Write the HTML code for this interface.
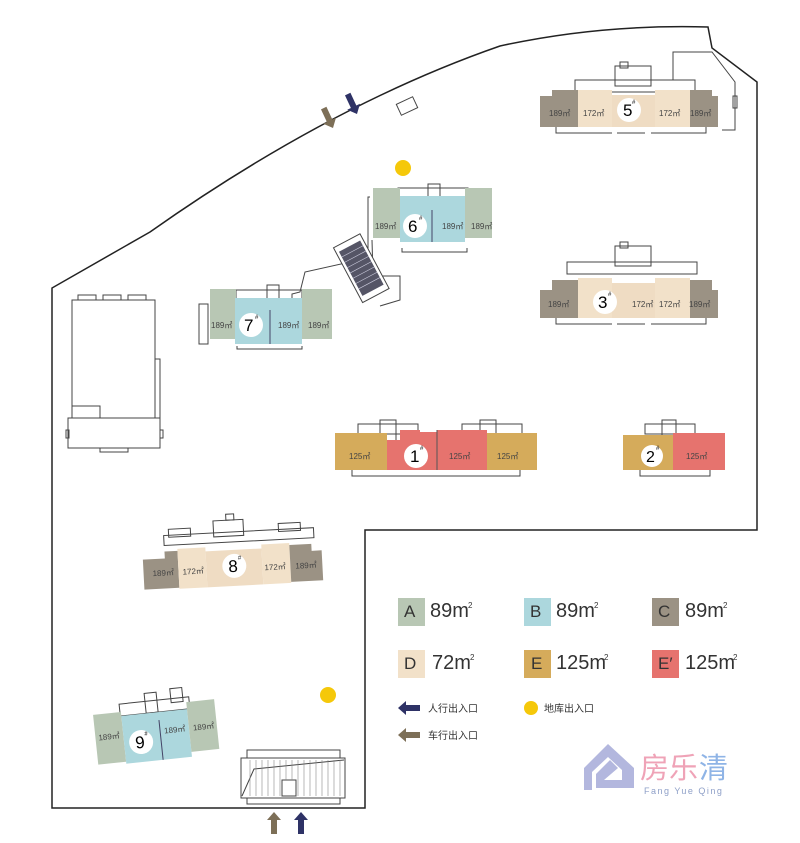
<!DOCTYPE html>
<html><head><meta charset="utf-8"><style>
body{margin:0;background:#fff}
svg{display:block}
text{font-family:"Liberation Sans","Noto Sans CJK SC",sans-serif}
.u{font-size:8px;fill:#444}
</style></head><body>
<svg width="800" height="843" viewBox="0 0 800 843" xmlns="http://www.w3.org/2000/svg">
<!-- boundary -->
<path d="M52,808 L52,288 L150,232 Q330,105 500,46 Q600,24 708,27 L712,48 L757,82 L757,530 L365,530 L365,808 Z" fill="none" stroke="#222" stroke-width="1.5"/>

<!-- left building -->
<g fill="none" stroke="#444" stroke-width="1">
<rect x="72" y="300" width="83" height="118"/>
<rect x="68" y="418" width="92" height="30"/>
<rect x="72" y="406" width="28" height="12"/>
<rect x="155" y="359" width="5" height="59"/>
<rect x="78" y="295" width="18" height="5"/><rect x="103" y="295" width="18" height="5"/><rect x="128" y="295" width="18" height="5"/>
<rect x="100" y="448" width="28" height="4"/>
<rect x="66" y="430" width="3" height="8"/><rect x="160" y="430" width="3" height="8"/>
<rect x="398" y="100" width="18" height="12" transform="rotate(-25 407 106)"/>
</g>

<!-- Building 5 -->
<g>
<g fill="none" stroke="#444" stroke-width="1">
<rect x="575" y="80" width="120" height="12"/><rect x="615" y="66" width="36" height="20"/><rect x="620" y="62" width="8" height="6"/>
<path d="M690,80 L673,80 L673,52 L712,52 L735,82 L735,130 L722,130"/>
<rect x="733" y="96" width="4" height="12"/>
<path d="M556,127 L556,133 L612,133 M617,133 L645,133 M651,133 L706,133 L706,127"/>
</g>
<polygon points="540,96 552,96 552,90 578,90 578,127 540,127" fill="#9b9284"/>
<rect x="578" y="90" width="34" height="37" fill="#f2e1c9"/>
<rect x="612" y="95" width="43" height="32" fill="#efdcc3"/>
<rect x="655" y="90" width="35" height="37" fill="#f2e1c9"/>
<polygon points="690,90 712,90 712,96 718,96 718,127 690,127" fill="#9b9284"/>
<circle cx="629" cy="110" r="12" fill="#fff"/><text x="623" y="116" font-size="17">5</text><text x="632" y="104" font-size="6">#</text>
<text class="u" x="549" y="116">189㎡</text><text class="u" x="583" y="116">172㎡</text><text class="u" x="659" y="116">172㎡</text><text class="u" x="690" y="116">189㎡</text>
</g>

<!-- Building 3 -->
<g>
<g fill="none" stroke="#444" stroke-width="1">
<rect x="567" y="262" width="130" height="12"/><rect x="615" y="246" width="36" height="20"/><rect x="620" y="242" width="8" height="6"/>
<path d="M556,318 L556,324 L612,324 M617,324 L645,324 M651,324 L706,324 L706,318"/>
</g>
<polygon points="540,290 552,290 552,280 578,280 578,318 540,318" fill="#9b9284"/>
<rect x="578" y="278" width="34" height="40" fill="#f2e1c9"/>
<rect x="612" y="283" width="43" height="35" fill="#efdcc3"/>
<rect x="655" y="278" width="35" height="40" fill="#f2e1c9"/>
<polygon points="690,280 712,280 712,290 718,290 718,318 690,318" fill="#9b9284"/>
<circle cx="605" cy="302" r="12" fill="#fff"/><text x="598" y="308" font-size="17">3</text><text x="608" y="296" font-size="6">#</text>
<text class="u" x="548" y="307">189㎡</text><text class="u" x="632" y="307">172㎡</text><text class="u" x="659" y="307">172㎡</text><text class="u" x="689" y="307">189㎡</text>
</g>

<!-- Building 6 -->
<g>
<g fill="none" stroke="#444" stroke-width="1">
<rect x="398" y="188" width="70" height="10"/><rect x="428" y="184" width="12" height="16"/>
<path d="M402,248 L402,252 L467,252 L467,248"/>
<path d="M370,197 L368,197 L368,258 L305,272 L300,292 L292,294 L292,335"/>
<path d="M372,240 L373,276 L400,276 L400,300 L380,306"/>
</g>
<rect x="373" y="188" width="27" height="50" fill="#b8c7b4"/>
<rect x="400" y="196" width="65" height="46" fill="#acd7dd"/>
<line x1="432" y1="210" x2="432" y2="242" stroke="#446" stroke-width="1"/>
<rect x="465" y="188" width="27" height="50" fill="#b8c7b4"/>
<circle cx="415" cy="226" r="12" fill="#fff"/><text x="408" y="232" font-size="17">6</text><text x="419" y="220" font-size="6">#</text>
<text class="u" x="375" y="229">189㎡</text><text class="u" x="442" y="229">189㎡</text><text class="u" x="471" y="229">189㎡</text>
<g transform="rotate(-28 360 270)">
<rect x="347" y="238" width="30" height="62" fill="#fff" stroke="#444"/>
<rect x="350" y="244" width="24" height="50" fill="#556" />
<g stroke="#ccd" stroke-width="0.6"><line x1="350" y1="250" x2="374" y2="250"/><line x1="350" y1="256" x2="374" y2="256"/><line x1="350" y1="262" x2="374" y2="262"/><line x1="350" y1="268" x2="374" y2="268"/><line x1="350" y1="274" x2="374" y2="274"/><line x1="350" y1="280" x2="374" y2="280"/><line x1="350" y1="286" x2="374" y2="286"/></g>
</g>
</g>

<!-- Building 7 -->
<g>
<g fill="none" stroke="#444" stroke-width="1">
<rect x="236" y="290" width="66" height="10"/><rect x="267" y="285" width="12" height="16"/>
<path d="M237,346 L237,349 L302,349 L302,346"/>
<rect x="199" y="304" width="9" height="40"/>
</g>
<rect x="210" y="289" width="26" height="50" fill="#b8c7b4"/>
<rect x="235" y="298" width="67" height="46" fill="#acd7dd"/>
<line x1="270" y1="310" x2="270" y2="344" stroke="#446"/>
<rect x="302" y="289" width="30" height="50" fill="#b8c7b4"/>
<circle cx="251" cy="325" r="12" fill="#fff"/><text x="244" y="331" font-size="17">7</text><text x="255" y="319" font-size="6">#</text>
<text class="u" x="211" y="328">189㎡</text><text class="u" x="278" y="328">189㎡</text><text class="u" x="308" y="328">189㎡</text>
</g>

<!-- Building 1 -->
<g>
<g fill="none" stroke="#444" stroke-width="1">
<rect x="358" y="424" width="60" height="10"/><rect x="380" y="420" width="16" height="22"/>
<rect x="462" y="424" width="60" height="10"/><rect x="480" y="420" width="16" height="22"/>
<path d="M352,470 L352,476 L520,476 L520,470"/>
</g>
<rect x="335" y="433" width="52" height="37" fill="#d5ab5b"/>
<polygon points="387,440 400,440 400,430 420,430 420,470 387,470" fill="#e6736e"/>
<rect x="420" y="432" width="17" height="38" fill="#e6736e"/>
<rect x="437" y="430" width="50" height="40" fill="#e6736e"/>
<rect x="487" y="433" width="50" height="37" fill="#d5ab5b"/>
<line x1="437" y1="430" x2="437" y2="470" stroke="#555"/>
<circle cx="416" cy="456" r="12" fill="#fff"/><text x="410" y="462" font-size="17">1</text><text x="420" y="450" font-size="6">#</text>
<text class="u" x="349" y="459">125㎡</text><text class="u" x="449" y="459">125㎡</text><text class="u" x="497" y="459">125㎡</text>
</g>

<!-- Building 2 -->
<g>
<g fill="none" stroke="#444" stroke-width="1">
<rect x="645" y="424" width="50" height="10"/><rect x="662" y="420" width="14" height="22"/>
<path d="M640,470 L640,476 L710,476 L710,470"/>
</g>
<rect x="623" y="435" width="50" height="35" fill="#d5ab5b"/>
<rect x="673" y="433" width="52" height="37" fill="#e6736e"/>
<circle cx="652" cy="456" r="11" fill="#fff"/><text x="646" y="462" font-size="16">2</text><text x="656" y="450" font-size="6">#</text>
<text class="u" x="686" y="459">125㎡</text>
</g>

<!-- Building 8 -->
<g transform="rotate(-3 232 560)">
<g fill="none" stroke="#444" stroke-width="1">
<rect x="165" y="532" width="150" height="10"/><rect x="215" y="520" width="30" height="16"/><rect x="228" y="514" width="8" height="6"/>
<rect x="170" y="526" width="22" height="8"/><rect x="280" y="526" width="22" height="8"/>
</g>
<polygon points="143,555 165,555 165,548 178,548 178,585 143,585" fill="#9b9284"/>
<rect x="178" y="546" width="28" height="40" fill="#f2e1c9"/>
<rect x="206" y="550" width="56" height="36" fill="#efdcc3"/>
<rect x="262" y="546" width="28" height="40" fill="#f2e1c9"/>
<polygon points="290,548 312,548 312,555 322,555 322,585 290,585" fill="#9b9284"/>
<circle cx="234" cy="566" r="12" fill="#fff"/><text x="228" y="572" font-size="17">8</text><text x="238" y="560" font-size="6">#</text>
<text class="u" x="152" y="572">189㎡</text><text class="u" x="182" y="572">172㎡</text><text class="u" x="264" y="572">172㎡</text><text class="u" x="295" y="572">189㎡</text>
</g>

<!-- Building 9 -->
<g transform="rotate(-6 160 730)">
<g fill="none" stroke="#444" stroke-width="1">
<rect x="122" y="700" width="70" height="12"/><rect x="148" y="692" width="12" height="20"/><rect x="174" y="690" width="12" height="14"/>
</g>
<rect x="95" y="708" width="28" height="50" fill="#b8c7b4"/>
<rect x="123" y="712" width="66" height="48" fill="#acd7dd"/>
<line x1="160" y1="720" x2="160" y2="760" stroke="#446"/>
<rect x="189" y="705" width="28" height="50" fill="#b8c7b4"/>
<circle cx="140" cy="740" r="12" fill="#fff"/><text x="134" y="746" font-size="17">9</text><text x="144" y="734" font-size="6">#</text>
<text class="u" x="98" y="734">189㎡</text><text class="u" x="164" y="734">189㎡</text><text class="u" x="193" y="734">189㎡</text>
</g>

<!-- garage -->
<g fill="none" stroke="#444" stroke-width="1">
<rect x="247" y="750" width="93" height="8"/>
<rect x="241" y="758" width="104" height="40" fill="#fff"/>
<rect x="247" y="798" width="93" height="6"/>
<rect x="282" y="780" width="14" height="16"/>
<path d="M242,796 L254,769 L344,760"/>
</g>
<g stroke="#888" stroke-width="0.6">
<line x1="250" y1="760" x2="250" y2="796"/><line x1="256" y1="760" x2="256" y2="796"/><line x1="262" y1="760" x2="262" y2="796"/><line x1="268" y1="760" x2="268" y2="796"/><line x1="274" y1="760" x2="274" y2="796"/><line x1="280" y1="760" x2="280" y2="796"/><line x1="286" y1="760" x2="286" y2="780"/><line x1="292" y1="760" x2="292" y2="780"/><line x1="298" y1="760" x2="298" y2="796"/><line x1="304" y1="760" x2="304" y2="796"/><line x1="310" y1="760" x2="310" y2="796"/><line x1="316" y1="760" x2="316" y2="796"/><line x1="322" y1="760" x2="322" y2="796"/><line x1="328" y1="760" x2="328" y2="796"/><line x1="334" y1="760" x2="334" y2="796"/><line x1="340" y1="760" x2="340" y2="796"/>
</g>

<!-- arrows -->
<g>
<path d="M274,812 L281,820 L277,820 L277,834 L271,834 L271,820 L267,820 Z" fill="#7d6f57"/>
<path d="M301,812 L308,820 L304,820 L304,834 L298,834 L298,820 L294,820 Z" fill="#2e3266"/>
<g transform="translate(333,128) rotate(-115)"><path d="M0,0 L8,-7 L8,-3 L22,-3 L22,3 L8,3 L8,7 Z" fill="#7d6f57"/></g>
<g transform="translate(357,114) rotate(-115)"><path d="M0,0 L8,-7 L8,-3 L22,-3 L22,3 L8,3 L8,7 Z" fill="#2e3266"/></g>
</g>
<circle cx="403" cy="168" r="8" fill="#f5c80a"/>
<circle cx="328" cy="695" r="8" fill="#f5c80a"/>

<!-- legend -->
<g font-size="20" fill="#333">
<rect x="398" y="598" width="27" height="28" fill="#b8c7b4"/><text x="404" y="617" font-size="17">A</text>
<text x="430" y="617">89m</text><text x="468" y="608" font-size="8">2</text>
<rect x="524" y="598" width="27" height="28" fill="#acd7dd"/><text x="530" y="617" font-size="17">B</text>
<text x="556" y="617">89m</text><text x="594" y="608" font-size="8">2</text>
<rect x="652" y="598" width="27" height="28" fill="#9b9284"/><text x="658" y="617" font-size="17">C</text>
<text x="685" y="617">89m</text><text x="723" y="608" font-size="8">2</text>
<rect x="398" y="650" width="27" height="28" fill="#f2e1c9"/><text x="404" y="669" font-size="17">D</text>
<text x="432" y="669">72m</text><text x="470" y="660" font-size="8">2</text>
<rect x="524" y="650" width="27" height="28" fill="#d5ab5b"/><text x="531" y="669" font-size="17">E</text>
<text x="556" y="669">125m</text><text x="604" y="660" font-size="8">2</text>
<rect x="652" y="650" width="27" height="28" fill="#e6736e"/><text x="658" y="669" font-size="17">E′</text>
<text x="685" y="669">125m</text><text x="733" y="660" font-size="8">2</text>
</g>
<path d="M398,708 L406,701 L406,705 L420,705 L420,711 L406,711 L406,715 Z" fill="#2e3266"/>
<text x="428" y="712" font-size="10" fill="#333">人行出入口</text>
<path d="M398,735 L406,728 L406,732 L420,732 L420,738 L406,738 L406,742 Z" fill="#7d6f57"/>
<text x="428" y="739" font-size="10" fill="#333">车行出入口</text>
<circle cx="531" cy="708" r="7" fill="#f5c80a"/>
<text x="544" y="712" font-size="10" fill="#333">地库出入口</text>

<!-- logo -->
<g>
<path d="M584,768 L608,744 L634,768 L634,788 L596,788 L596,774 L610,760 L618,768 L604,780 L622,780 L622,770 L608,757 L592,772 L592,790 L584,790 Z" fill="#a6aad8" opacity="0.85"/>
<text x="640" y="778" font-size="29" fill="#ee9ab0" opacity="0.9">房乐</text><text x="699" y="778" font-size="29" fill="#8fb4e6">清</text>
<text x="644" y="794" font-size="9" fill="#8fa0c8" letter-spacing="1.5">Fang Yue Qing</text>
</g>
</svg>
</body></html>
